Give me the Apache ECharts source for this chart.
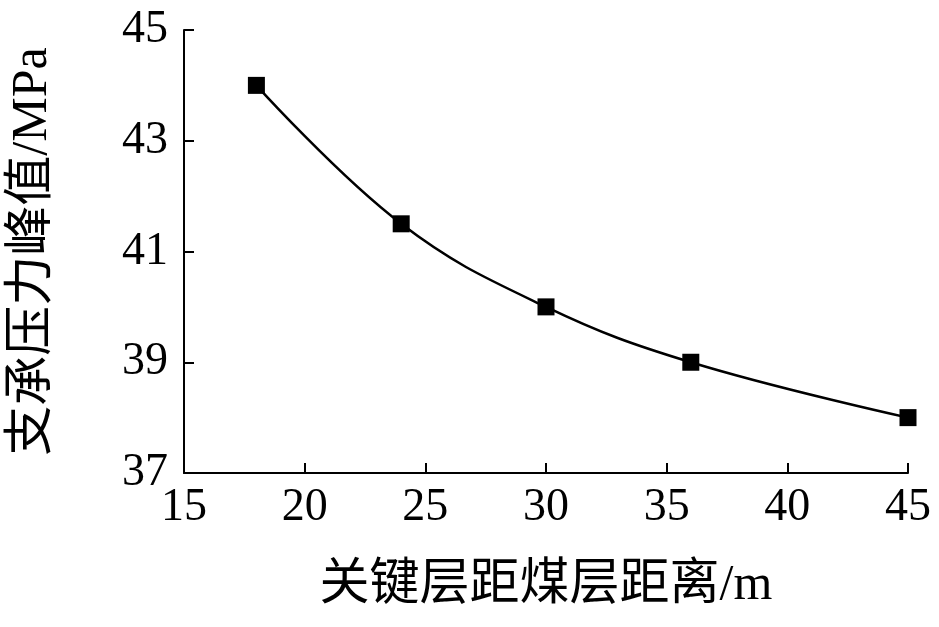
<!DOCTYPE html>
<html>
<head>
<meta charset="utf-8">
<script src="https://cdn.jsdelivr.net/npm/echarts@6/dist/echarts.min.js"></script>
<style>html,body{margin:0;padding:0;background:#fff}#chart{width:939px;height:627px}</style>
</head>
<body>
<div id="chart"></div>
<script>
// data
var distances = [18, 24, 30, 36, 45];
var peakStress = [44, 41.5, 40, 39, 38];
var yTicks = [37, 39, 41, 43, 45];
var xName = "关键层距煤层距离/m";
var yName = "支承压力峰值/MPa";

(function() {
  var myChart = echarts.init(document.getElementById("chart"));
  var font = "'Liberation Serif', 'Noto Sans CJK SC', serif";
  var option = {
    animation: false,
    grid: { left: 163, right: 31, top: 30, bottom: 154 },
    xAxis: {
      type: "value",
      min: 15, max: 45, interval: 5,
      name: xName, nameLocation: "middle", nameGap: 88,
      nameTextStyle: { fontFamily: font, fontSize: 50, color: "#000" },
      axisLine: { lineStyle: { color: "#000", width: 2 } },
      axisTick: { inside: true, length: 10, lineStyle: { color: "#000", width: 2 } },
      axisLabel: { fontFamily: font, fontSize: 46, color: "#000", margin: 12 },
      splitLine: { show: false }
    },
    yAxis: {
      type: "value",
      min: 37, max: 45,
      name: yName, nameLocation: "middle", nameGap: 126, nameRotate: 90,
      nameTextStyle: { fontFamily: font, fontSize: 50, color: "#000" },
      axisLine: { show: true, lineStyle: { color: "#000", width: 2 } },
      axisTick: { show: true, inside: true, length: 10, customValues: yTicks, lineStyle: { color: "#000", width: 2 } },
      axisLabel: { fontFamily: font, fontSize: 46, color: "#000", margin: 16, customValues: yTicks },
      splitLine: { show: false }
    },
    series: [{
      type: "line",
      smooth: 0.4,
      data: distances.map(function(d, i) { return [d, peakStress[i]]; }),
      symbol: "rect", symbolSize: 17,
      lineStyle: { color: "#000", width: 2.5 },
      itemStyle: { color: "#000" }
    }]
  };
  myChart.setOption(option);
})();
</script>
</body>
</html>
